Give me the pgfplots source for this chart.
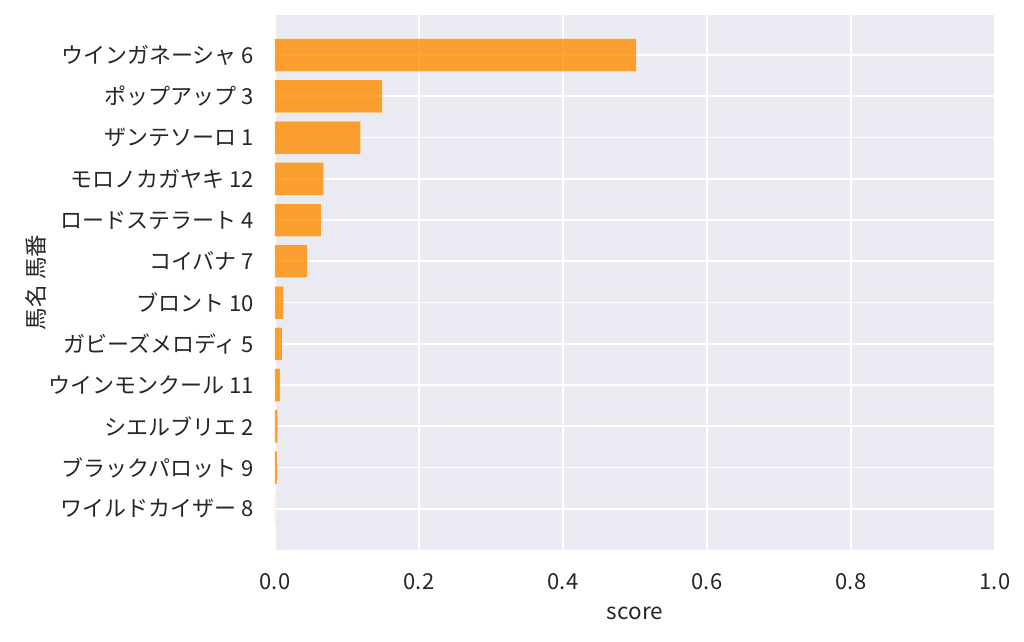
\documentclass[border=0pt]{standalone}
\usepackage{fontspec}
\setmainfont{Noto Sans CJK JP}
\usepackage{pgfplots}
\pgfplotsset{compat=1.18}
\definecolor{bgc}{HTML}{EAEAF2}
\definecolor{txt}{HTML}{262626}
\definecolor{barc}{HTML}{FF8C00}
\begin{document}
\begin{tikzpicture}
\path[use as bounding box] (-275pt,-91pt) rectangle (749pt,550pt);
\begin{axis}[
  at={(0,0)}, anchor=south west,
  scale only axis, width=720pt, height=535pt,
  xmin=0, xmax=1, ymin=-0.97, ymax=12,
  y dir=reverse,
  axis background/.style={fill=bgc},
  axis line style={draw=none},
  major tick length=0pt,
  xtick={0,0.2,0.4,0.6,0.8,1.0},
  xticklabels={0.0,0.2,0.4,0.6,0.8,1.0},
  ytick={0,1,2,3,4,5,6,7,8,9,10,11},
  yticklabels={ウインガネーシャ 6,ポップアップ 3,ザンテソーロ 1,モロノカガヤキ 12,ロードステラート 4,コイバナ 7,ブロント 10,ガビーズメロディ 5,ウインモンクール 11,シエルブリエ 2,ブラックパロット 9,ワイルドカイザー 8},
  grid=major,
  major grid style={draw=white, line width=1.6pt},
  /pgf/number format/assume math mode=true,
  tick label style={font=\fontsize{22}{26}\selectfont, text=txt, inner sep=0pt},
  xticklabel style={anchor=north, yshift=-23pt},
  yticklabel style={anchor=east, xshift=-21pt},
  xlabel={score},
  xlabel style={at={(axis description cs:0.5,0)}, anchor=north, yshift=-57pt, inner sep=0pt, font=\fontsize{22.5}{26}\selectfont, text=txt},
  ylabel={馬名 馬番},
  ylabel style={at={(axis description cs:-0.332,0.5)}, anchor=center, rotate=0, inner sep=0pt, font=\fontsize{22.5}{26}\selectfont, text=txt},
  xbar, bar width=0.8,
]
\addplot[fill=barc, fill opacity=0.8, draw=white, draw opacity=0.4, line width=1pt] table[x=score, y=idx] {
idx score
0 0.502
1 0.149
2 0.119
3 0.068
4 0.064
5 0.045
6 0.012
7 0.010
8 0.007
9 0.004
10 0.003
11 0.0003
};
\end{axis}
\end{tikzpicture}
\end{document}
